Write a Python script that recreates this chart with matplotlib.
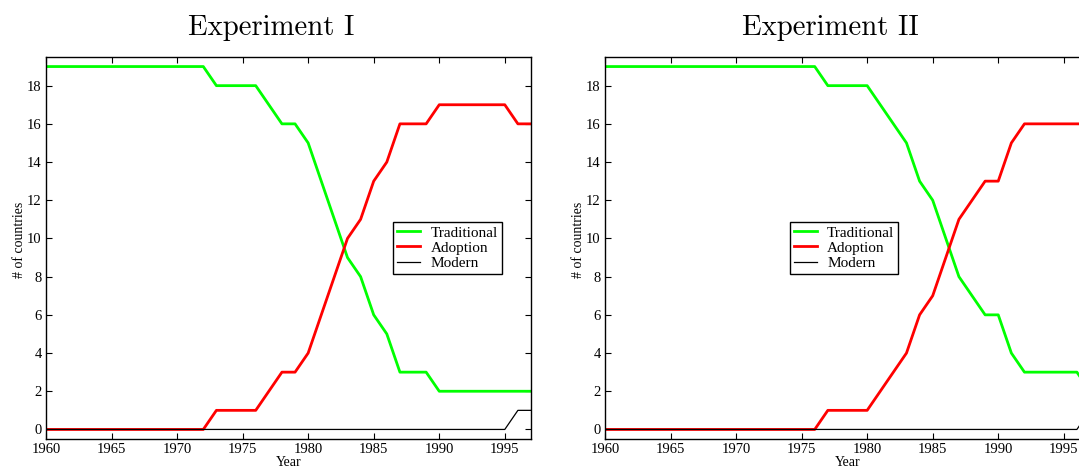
import matplotlib
matplotlib.use("Agg")
import matplotlib.pyplot as plt

# ─────────────────────────────────────────
# DATA
# ─────────────────────────────────────────
years = list(range(1960, 1998))

trad_1 = [19] * 13 + [18, 18, 18, 18, 17, 16, 16, 15, 13, 11, 9, 8, 6, 5, 3, 3, 3] + [2] * 8
adopt_1 = [0] * 13 + [1, 1, 1, 1, 2, 3, 3, 4, 6, 8, 10, 11, 13, 14, 16, 16, 16] + [17] * 6 + [16, 16]
modern_1 = [0] * 36 + [1, 1]

trad_2 = [19] * 17 + [18, 18, 18, 18, 17, 16, 15, 13, 12, 10, 8, 7, 6, 6, 4] + [3] * 5 + [2]
adopt_2 = [0] * 17 + [1, 1, 1, 1, 2, 3, 4, 6, 7, 9, 11, 12, 13, 13, 15] + [16] * 6
modern_2 = [0] * 37 + [1]

titles = ["Experiment I", "Experiment II"]
series_names = ["Traditional", "Adoption", "Modern"]

# ─────────────────────────────────────────
# STYLE / LAYOUT
# ─────────────────────────────────────────
plt.rcParams["font.family"] = ["Liberation Serif", "DejaVu Serif"]

W, H = 1079, 470
fig = plt.figure(figsize=(W / 100, H / 100), dpi=100)

ax_w = 485 / W
ax_h = (439 - 57) / H
ax_b = (H - 439) / H
lefts = [46 / W, 605 / W]      # second panel runs past the right edge, as in the source
legend_x = [0.716, 0.381]

datasets = [(trad_1, adopt_1, modern_1), (trad_2, adopt_2, modern_2)]

for i, (trad, adopt, modern) in enumerate(datasets):
    ax = fig.add_axes([lefts[i], ax_b, ax_w, ax_h])
    ax.plot(years, trad, color="#00ff00", lw=2, label=series_names[0])
    ax.plot(years, adopt, color="#ff0000", lw=2, label=series_names[1])
    ax.plot(years, modern, color="black", lw=0.9, label=series_names[2])

    ax.set_xlim(1960, 1997)
    ax.set_ylim(-0.5, 19.5)
    ax.set_xticks(range(1960, 1996, 5))
    ax.set_yticks(range(0, 19, 2))
    ax.tick_params(direction="in", length=4, width=0.8, labelsize=10.5,
                   top=True, right=True, pad=3)
    for sp in ax.spines.values():
        sp.set_linewidth(1.0)

    ax.set_xlabel("Year", fontsize=10, labelpad=0)
    ax.set_ylabel("# of countries", fontsize=10, labelpad=1, y=0.52)
    ax.set_title(titles[i], fontname="cmr10", fontsize=20.7, pad=16, x=0.464)

    leg = ax.legend(loc="upper left", bbox_to_anchor=(legend_x[i], 0.568),
                    fontsize=11, frameon=True, fancybox=False, edgecolor="black",
                    framealpha=1, handlelength=1.5, handletextpad=0.7,
                    borderpad=0.25, labelspacing=0.1, borderaxespad=0)
    leg.get_frame().set_linewidth(1.0)

plt.savefig("out.png", dpi=100)
